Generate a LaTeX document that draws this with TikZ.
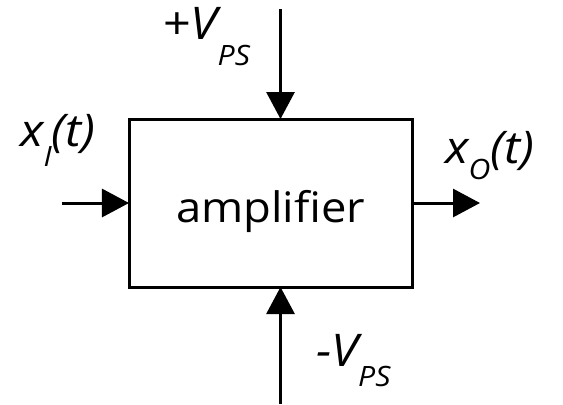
\documentclass[tikz,border=0pt]{standalone}
\usepackage{fontspec}
\setmainfont[FakeStretch=1.08]{Open Sans}
\usetikzlibrary{arrows.meta,positioning}
\newcommand{\lowsub}[2]{\raisebox{-#1}{\fontsize{28bp}{28bp}\selectfont #2}}

\begin{document}
\begin{tikzpicture}[x=1bp,y=-1bp,
                    blockbox/.style={draw, line width=3bp, minimum width=283bp, minimum height=168bp, inner sep=0pt, outer sep=0pt},
                    sig/.style={-{Triangle[length=27bp,width=28bp]}, line width=3bp},
                    lbl/.style={anchor=base west, inner sep=0pt, font=\fontsize{45bp}{45bp}\selectfont\itshape}]
                \useasboundingbox (0,0) rectangle (563,404);
                \node[blockbox] (amp) at (270.5,203) {};
                \node[anchor=base, inner sep=0pt, font=\fontsize{42bp}{42bp}\selectfont] (amptext) at ([yshift=-19bp]amp.center) {amplifier};
                \coordinate (vin) at (62,203);
                \coordinate (vout) at (480,203);
                \coordinate (vtop) at (280.5,9);
                \coordinate (vbot) at (280.5,404);
                \draw[sig] (vin) -- (amp.west);
                \draw[sig] (amp.east) -- (vout);
                \draw[sig] (vtop) -- (vtop |- amp.north);
                \draw[sig] (vbot) -- (vbot |- amp.south);
                \node[lbl] (vpos) at (163,39) {{\upshape+}V\lowsub{26bp}{PS}};
                \node[lbl] (vneg) at (316,366) {-V\lowsub{20bp}{PS}};
                \node[lbl] (xin) at (20,146) {x\lowsub{20bp}{I}(t)};
                \node[lbl] (xout) at (445,163) {x\lowsub{16bp}{O}(t)};
            \end{tikzpicture}
\end{document}
